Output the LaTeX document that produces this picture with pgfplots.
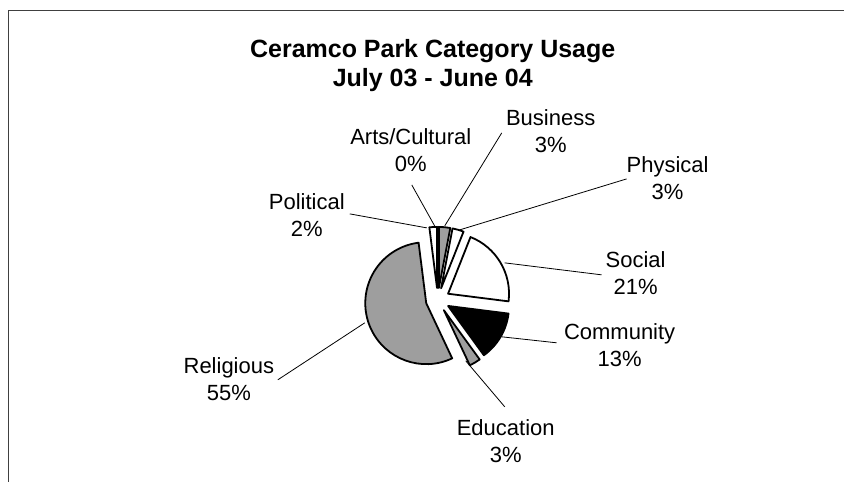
\documentclass[border=0pt]{standalone}
\usepackage{fontspec}
\setmainfont{Liberation Sans}
\usepackage{pgfplots}
\pgfplotsset{compat=1.18}
\definecolor{pat}{HTML}{9E9E9E}
% fill, start (percent, clockwise from 12 o'clock), value (percent)
\newcommand\slice[3]{%
 \pgfmathsetmacro\sa{90-3.6*#2}%
 \pgfmathsetmacro\sb{90-3.6*(#2+#3)}%
 \pgfmathsetmacro\mm{3.6*(#2+#3/2)}%
 \pgfmathsetmacro\ox{438+12*sin(\mm)}%
 \pgfmathsetmacro\oy{300-12*cos(\mm)}%
 \edef\doslice{\noexpand\filldraw[fill=#1,draw=black,line width=1.8pt,line join=round] (axis cs:\ox,\oy) -- ++(\sa:61pt) arc[start angle=\sa,end angle=\sb,radius=61pt] -- cycle;}%
 \doslice}
\begin{document}
\begin{tikzpicture}
\begin{axis}[x=1pt,y=1pt,xmin=0,xmax=844,ymin=0,ymax=482,y dir=reverse,
  hide axis,clip=false,scale only axis]
\path (axis cs:0,0) rectangle (axis cs:844,482);
% frame
\addplot[draw=black!75,line width=1pt] coordinates {(9,482) (9,11) (844,11)};
% title
\node[anchor=base,font=\fontsize{25}{30}\selectfont\bfseries] at (axis cs:433,58) {Ceramco Park Category Usage};
\node[anchor=base,font=\fontsize{25}{30}\selectfont\bfseries] at (axis cs:433,87) {July 03 - June 04};
% slices: Arts 0, Business 3, Physical 3, Social 21, Community 13, Education 3, Religious 55, Political 2
\slice{white}{0}{0}
\slice{pat}{0}{3}
\slice{white}{3}{3}
\slice{white}{6}{21}
\slice{black}{27}{13}
\slice{pat}{40}{3}
\slice{pat}{43}{55}
\slice{white}{98}{2}
% leader lines
\addplot[black,line width=0.8pt] coordinates {(350,214) (427,228)};
\addplot[black,line width=0.8pt] coordinates {(412,185) (436,228)};
\addplot[black,line width=0.8pt] coordinates {(502,133) (445,226)};
\addplot[black,line width=0.8pt] coordinates {(627,179) (460,230)};
\addplot[black,line width=0.8pt] coordinates {(602,275) (505,263)};
\addplot[black,line width=0.8pt] coordinates {(557,343) (502,337)};
\addplot[black,line width=0.8pt] coordinates {(505,407) (466,361)};
\addplot[black,line width=0.8pt] coordinates {(278,380) (365,323)};
% labels
\tikzset{lab/.style={align=center,font=\fontsize{22}{27}\selectfont}}
\node[lab] at (axis cs:307,215) {Political\\2\%};
\node[lab] at (axis cs:411,150) {Arts/Cultural\\0\%};
\node[lab] at (axis cs:551,131) {Business\\3\%};
\node[lab] at (axis cs:668,178) {Physical\\3\%};
\node[lab] at (axis cs:636,273) {Social\\21\%};
\node[lab] at (axis cs:620,345) {Community\\13\%};
\node[lab] at (axis cs:506,441) {Education\\3\%};
\node[lab] at (axis cs:229,379) {Religious\\55\%};
\end{axis}
\end{tikzpicture}
\end{document}
